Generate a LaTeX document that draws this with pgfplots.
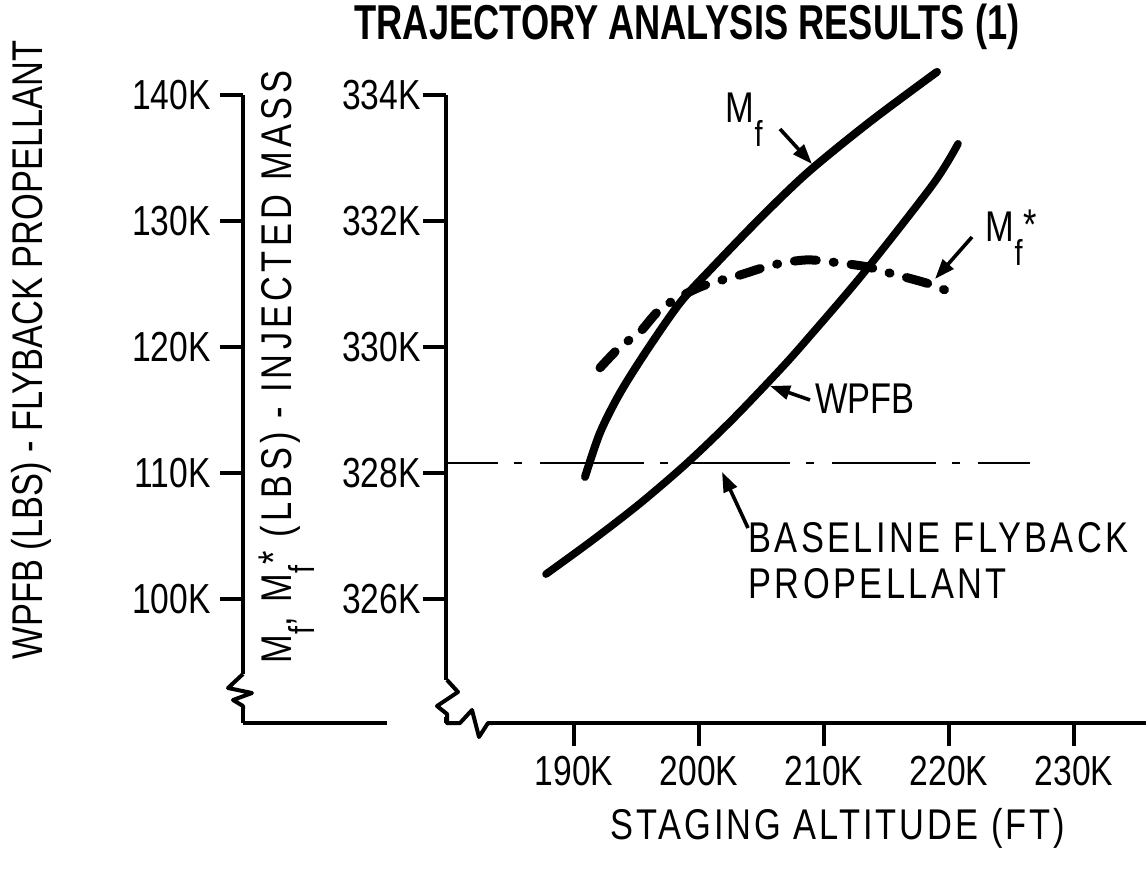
\documentclass[border=0pt]{standalone}
\usepackage{fontspec}
\setmainfont{Liberation Sans}[FakeStretch=0.8]
\newfontfamily\titlefont{Liberation Sans}[FakeStretch=0.74]
\usepackage{pgfplots}
\pgfplotsset{compat=1.18}
\usetikzlibrary{arrows.meta}

% lettering sizes (1 px of the scan = 0.5pt)
\newcommand{\lab}{\fontsize{21.5}{24}\selectfont}
\newcommand{\tlab}{\fontsize{21}{23}\selectfont}
\newcommand{\Mf}{M\kern0.3pt\raisebox{-0.55em}{\fontsize{18}{18}\selectfont f}}
\newcommand{\Mfs}{\Mf\kern0.6pt\raisebox{0.05em}{*}}

\begin{document}
\begin{tikzpicture}
\path[use as bounding box] (0,0) rectangle (573pt,434.5pt);

% outer scale: WPFB
\begin{axis}[
    at={(121.5pt,73pt)}, anchor=south west,
    scale only axis, width=72pt, height=314.2pt,
    xmin=0, xmax=1, ymin=90.2, ymax=140,
    axis x line*=bottom, axis y line*=left,
    axis line style={line width=2.2pt, -},
    xtick=\empty,
    ytick={100,110,120,130,140},
    yticklabels={100K,110K,120K,130K,140K},
    tick align=outside, major tick length=11.5pt,
    tick style={line width=2pt, black},
    yticklabel style={font=\tlab, inner sep=1pt, xshift=-3.5pt},
]
\end{axis}

% inner scale: injected mass, and the curves
\begin{axis}[
    at={(223pt,73pt)}, anchor=south west,
    scale only axis, width=350pt, height=314.2pt,
    xmin=179.76, xmax=235.76, ymin=324.04, ymax=334,
    axis x line*=bottom, axis y line*=left,
    axis line style={line width=2.2pt, -},
    xtick={190,200,210,220,230},
    xticklabels={190K,200K,210K,220K,230K},
    ytick={326,328,330,332,334},
    yticklabels={326K,328K,330K,332K,334K},
    tick align=outside, major tick length=11.5pt,
    tick style={line width=2pt, black},
    yticklabel style={font=\tlab, inner sep=1pt},
    xticklabel style={font=\tlab, inner sep=1pt, yshift=-4pt},
    clip=false,
]
% M_f
\addplot[line width=4pt, line cap=round, smooth] coordinates {
    (190.88,327.94) (192.08,328.64) (193.68,329.27) (195.84,329.95)
    (198.48,330.70) (200.88,331.22) (204.88,332.04) (208.72,332.77)
    (213.68,333.57) (219.04,334.36)
};
% WPFB, read in K lbs on the outer scale
\addplot[line width=3.8pt, line cap=round, smooth,
    y filter/.expression={328+(y-110)/5}] coordinates {
    (187.76,102.0) (191.50,104.7) (195.28,107.6) (199.04,110.8)
    (202.72,114.3) (206.48,118.2) (208.64,120.6) (213.12,125.8)
    (218.72,132.9) (220.72,136.1)
};
% M_f*
\addplot[line width=4.5pt, line cap=round, smooth,
    dash pattern=on 11pt off 8.5pt on 0.5pt off 8.5pt] coordinates {
    (192.08,329.67) (193.68,330.00) (195.28,330.24) (197.04,330.62)
    (200.08,330.95) (203.28,331.14) (205.92,331.30) (208.64,331.38)
    (211.28,331.33) (213.44,331.27) (215.28,331.17) (218.24,331.01)
    (220.08,330.87)
};
% baseline flyback propellant
\addplot[line width=1.3pt, dash pattern=on 52pt off 8pt on 4pt off 9pt,
    dash phase=26pt, y filter/.expression={328+(y-110)/5}] coordinates {
    (179.76,110.8) (226.48,110.8)
};
\end{axis}

\begin{scope}[x=0.5pt, y=-0.5pt, yshift=434.5pt]
% axis breaks
\fill[white] (236,674) rectangle (251,709);
\draw[line width=2pt, line join=round] (243,674) -- (228,688) -- (252,693) -- (233,700) -- (243,706) -- (243,709);
\fill[white] (439,680) rectangle (456,717);
\fill[white] (452,716) rectangle (492,731);
\draw[line width=2pt, line join=round] (447,680) -- (458,692) -- (437,706) -- (447,714) -- (447,723)
    -- (460,723) -- (472,710) -- (479,737) -- (488,723) -- (493,723);

% titles and axis labels
\node[font=\titlefont\bfseries\fontsize{24.5}{26}\selectfont, anchor=base] at (687,40)
    {TRAJECTORY ANALYSIS RESULTS (1)};
\node[font=\lab, rotate=90] at (31,350) {WPFB (LBS) - FLYBACK PROPELLANT};
\node[font=\lab\addfontfeature{LetterSpace=10}, rotate=90] at (287,367) {\Mf, \Mfs\ (LBS) - INJECTED MASS};
\node[font=\lab\addfontfeature{LetterSpace=7}] at (838,828) {STAGING ALTITUDE (FT)};

% curve labels
\node[font=\lab, anchor=base west, inner sep=0pt] at (725,123) {\Mf};
\draw[line width=1.8pt, -{Triangle[length=10pt,width=7pt]}] (780,129) -- (812,164);
\node[font=\lab, anchor=base west, inner sep=0pt] at (985,242) {\Mfs};
\draw[line width=1.8pt, -{Triangle[length=10pt,width=7pt]}] (972,237) -- (935,279);
\node[font=\lab, anchor=base west, inner sep=0pt] at (815,413) {WPFB};
\draw[line width=1.8pt, -{Triangle[length=10pt,width=7pt]}] (810,400) -- (770,386);
\node[font=\lab\addfontfeature{LetterSpace=8}, anchor=base west, inner sep=0pt] at (748,552) {BASELINE FLYBACK};
\node[font=\lab\addfontfeature{LetterSpace=8}, anchor=base west, inner sep=0pt] at (748,598) {PROPELLANT};
\draw[line width=1.8pt, -{Triangle[length=10pt,width=7pt]}] (748,528) -- (722,472);
\end{scope}
\end{tikzpicture}
\end{document}
